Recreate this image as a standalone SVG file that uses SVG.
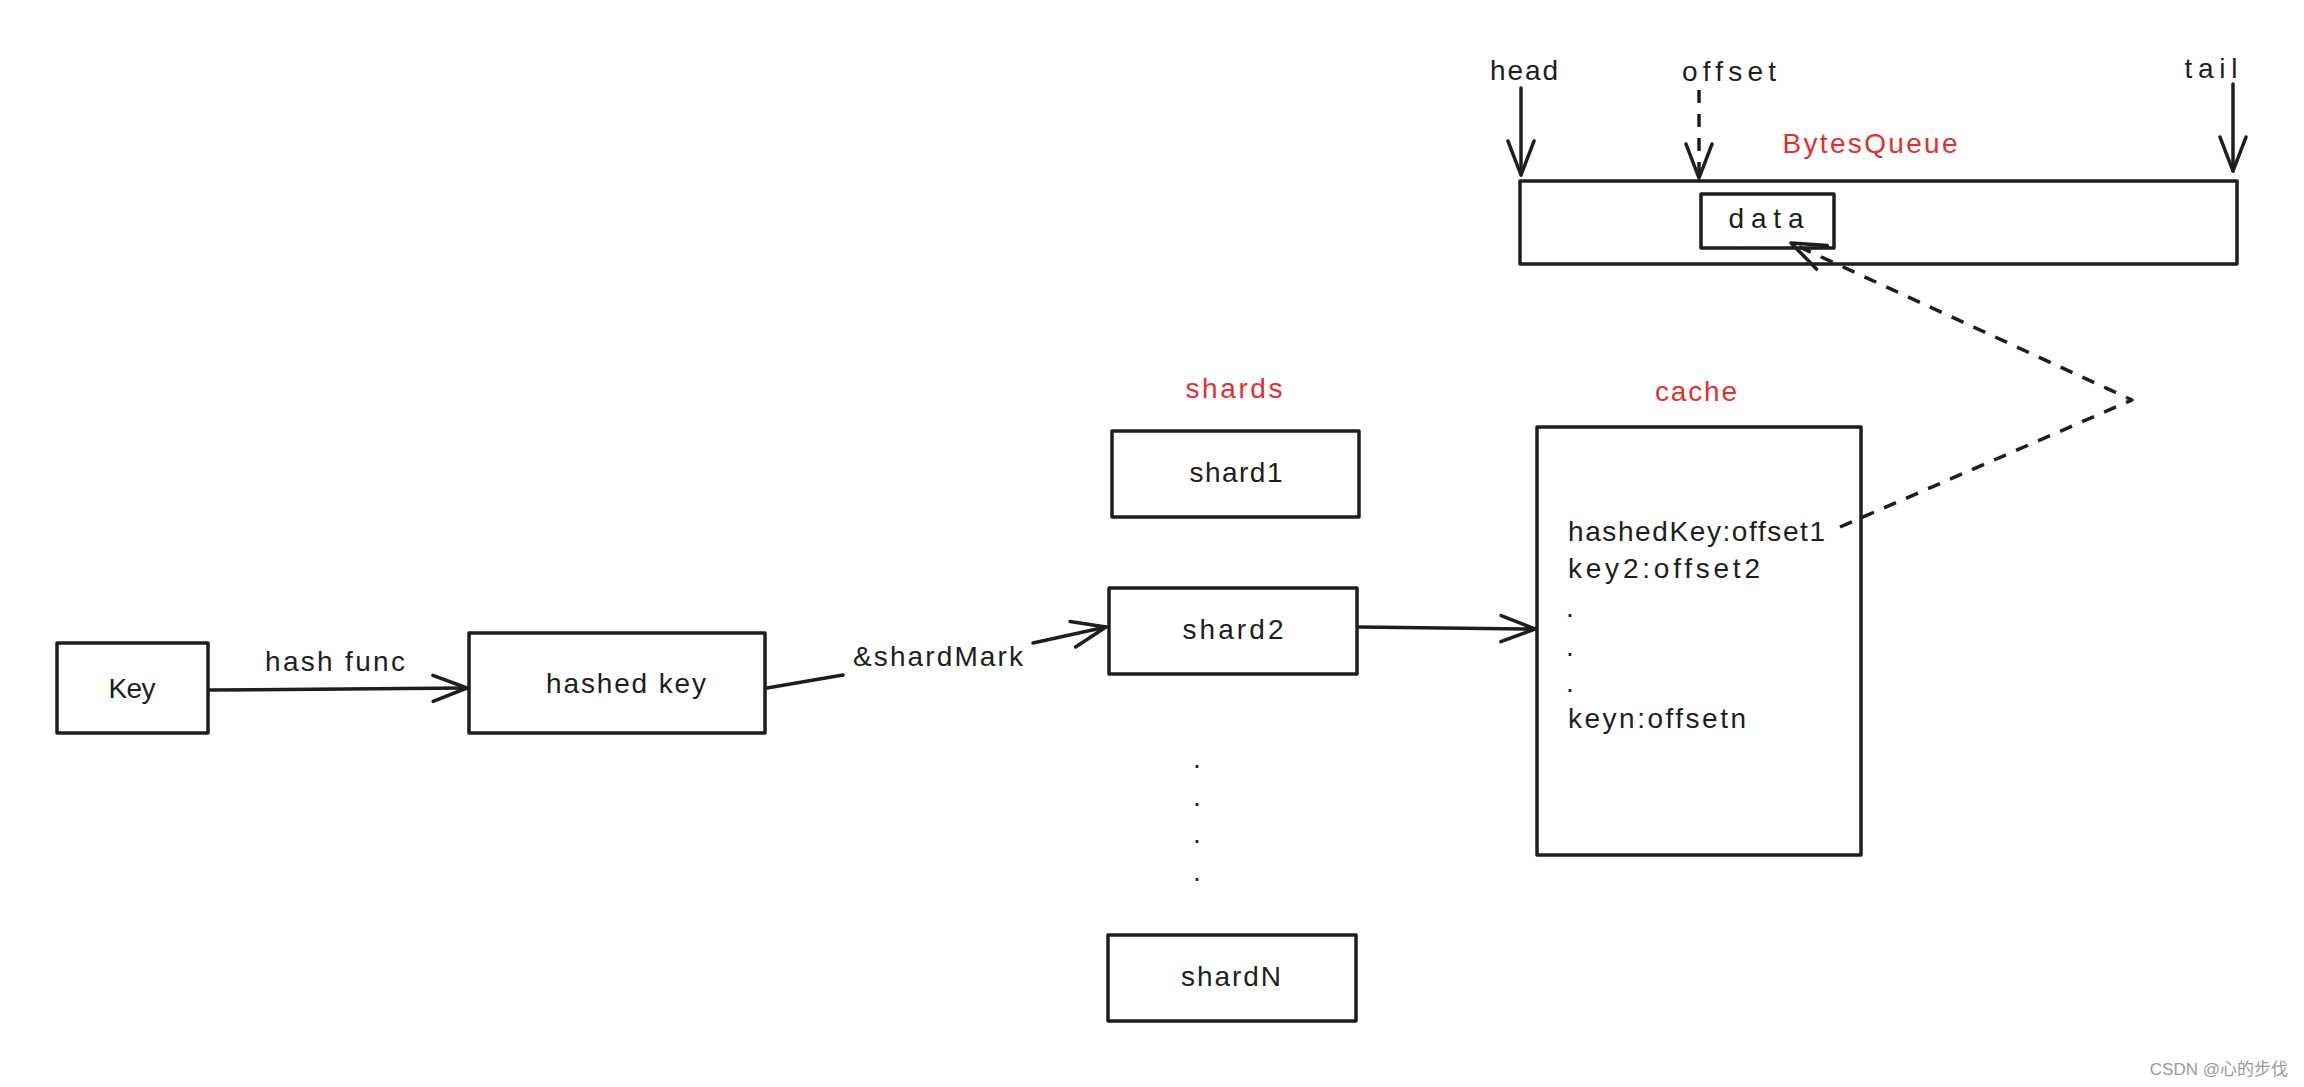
<svg xmlns="http://www.w3.org/2000/svg" width="2304" height="1087" viewBox="0 0 2304 1087">
<style>
.box{fill:#fff;stroke:#1e1e1e;stroke-width:3.5;stroke-linejoin:round}
.t{font-family:"Liberation Sans",Arial,sans-serif;font-size:28px;fill:#1e1e1e}
.c{text-anchor:middle}
.red{fill:#e03131}
.ln{fill:none;stroke:#1e1e1e;stroke-width:3.5;stroke-linecap:round;stroke-linejoin:round}
.dash{stroke-dasharray:13 11;stroke-linecap:butt}
.wm{font-family:"Liberation Sans",Arial,"Noto Sans CJK SC",sans-serif;font-size:17px;fill:#9a9a9a}
</style>
<defs>
<marker id="arr" markerUnits="userSpaceOnUse" viewBox="-40 -20 44 40" markerWidth="44" markerHeight="40" refX="0" refY="0" orient="auto" overflow="visible">
<path d="M-34,-13 L0,0 L-34,13" fill="none" stroke="#1e1e1e" stroke-width="3.5" stroke-linecap="round" stroke-linejoin="round"/>
</marker>
</defs>
<rect width="2304" height="1087" fill="#fff"/>

<g id="label-hashfunc"><text class="t c" x="335" y="671" textLength="140" lengthAdjust="spacing">hash func</text></g>
<g id="label-shardmark"><text class="t c" x="938" y="666" textLength="170" lengthAdjust="spacing">&amp;shardMark</text></g>

<g id="node-key">
<rect class="box" x="57" y="643" width="151" height="90"/>
<text class="t c" x="132" y="698" textLength="47" lengthAdjust="spacing">Key</text>
</g>
<g id="node-hashedkey">
<rect class="box" x="469" y="633" width="296" height="100"/>
<text class="t c" x="626" y="693" textLength="160" lengthAdjust="spacing">hashed key</text>
</g>

<g id="label-shards"><text class="t c red" x="1234" y="398" textLength="97" lengthAdjust="spacing">shards</text></g>
<g id="node-shard1">
<rect class="box" x="1112" y="431" width="247" height="86"/>
<text class="t c" x="1236" y="482" textLength="93" lengthAdjust="spacing">shard1</text>
</g>
<g id="node-shard2">
<rect class="box" x="1109" y="588" width="248" height="86"/>
<text class="t c" x="1233" y="639" textLength="101" lengthAdjust="spacing">shard2</text>
</g>
<g id="shard-dots">
<text class="t c" x="1197" y="768">.</text>
<text class="t c" x="1197" y="806">.</text>
<text class="t c" x="1197" y="843">.</text>
<text class="t c" x="1197" y="881">.</text>
</g>
<g id="node-shardN">
<rect class="box" x="1108" y="935" width="248" height="86"/>
<text class="t c" x="1231" y="986" textLength="100" lengthAdjust="spacing">shardN</text>
</g>

<g id="label-cache"><text class="t c red" x="1696" y="401" textLength="82" lengthAdjust="spacing">cache</text></g>
<g id="node-cache">
<rect class="box" x="1537" y="427" width="324" height="428"/>
<text class="t" x="1568" y="541" textLength="257" lengthAdjust="spacing">hashedKey:offset1</text>
<text class="t" x="1568" y="578" textLength="192" lengthAdjust="spacing">key2:offset2</text>
<text class="t" x="1566" y="617">.</text>
<text class="t" x="1566" y="656">.</text>
<text class="t" x="1566" y="692">.</text>
<text class="t" x="1568" y="728" textLength="178" lengthAdjust="spacing">keyn:offsetn</text>
</g>

<g id="label-head"><text class="t c" x="1524" y="80" textLength="68" lengthAdjust="spacing">head</text></g>
<g id="label-offset"><text class="t c" x="1729" y="81" textLength="94" lengthAdjust="spacing">offset</text></g>
<g id="label-tail"><text class="t c" x="2211" y="78" textLength="53" lengthAdjust="spacing">tail</text></g>
<g id="label-bytesqueue"><text class="t c red" x="1870" y="153" textLength="175" lengthAdjust="spacing">BytesQueue</text></g>

<g id="node-bytesqueue">
<rect class="box" x="1520" y="181" width="717" height="83" style="fill:none"/>
</g>
<g id="node-data">
<rect class="box" x="1701" y="194" width="133" height="54"/>
<text class="t c" x="1766" y="228" textLength="75" lengthAdjust="spacing">data</text>
</g>

<g id="connectors">
<path class="ln" d="M210 690 L467 688" marker-end="url(#arr)"/>
<path class="ln" d="M767 688 L843 675 M1033 643 L1106 627" marker-end="url(#arr)"/>
<path class="ln" d="M1359 627 L1535 629" marker-end="url(#arr)"/>
<path class="ln" d="M1521 88 L1521 175" marker-end="url(#arr)"/>
<path class="ln dash" d="M1699 90 L1699 178" marker-end="url(#arr)"/>
<path class="ln" d="M2233 84 L2233 171" marker-end="url(#arr)"/>
<path class="ln dash" d="M1840 527 L2132 400 L1791 243" marker-end="url(#arr)"/>
</g>

<text class="wm" x="2288" y="1075" text-anchor="end">CSDN @心的步伐</text>
</svg>
